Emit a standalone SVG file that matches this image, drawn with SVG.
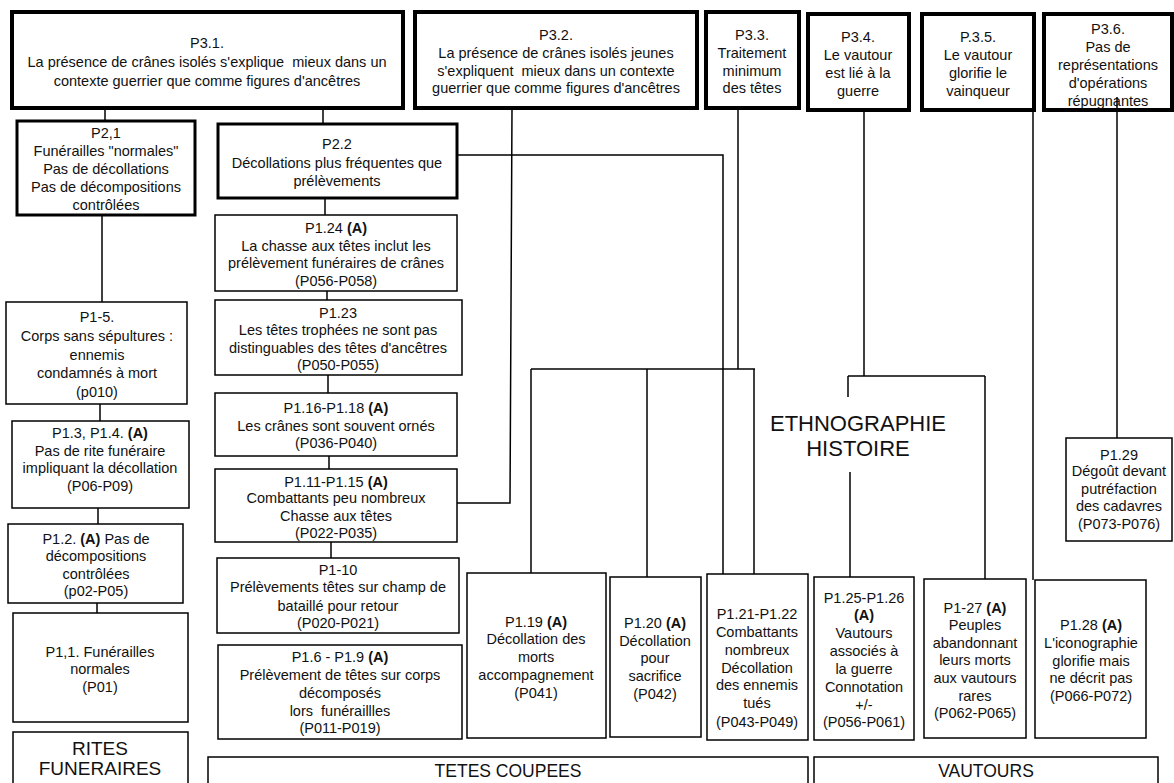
<svg xmlns="http://www.w3.org/2000/svg" width="1174" height="783" viewBox="0 0 1174 783">
<style>
.box{fill:#fff;stroke:#000;stroke-width:1.5}
.thick{stroke-width:4}
.med{stroke-width:3}
.t{font-family:"Liberation Sans",Arial,sans-serif;font-size:14.5px;text-anchor:middle;fill:#111;white-space:pre}
.big{font-size:17.5px}
.huge{font-size:22px}
.b{font-weight:bold}
.conn{fill:none;stroke:#000;stroke-width:1.5}
</style>
<rect width="1174" height="783" fill="#fff"/>
<g id="connectors" class="conn">
<path d="M105,108 V121"/>
<path d="M323,108 V124"/>
<path d="M102,215 V302"/>
<path d="M100,404 V421"/>
<path d="M98,508 V524"/>
<path d="M97,603 V613"/>
<path d="M325,198 V215"/>
<path d="M327,291 V300"/>
<path d="M328,375 V393"/>
<path d="M329,456 V469"/>
<path d="M331,542 V558"/>
<path d="M457,155 H723 V574"/>
<path d="M512,108 L510,503 H457"/>
<path d="M738,108 V369"/>
<path d="M531,369 H755"/>
<path d="M531,369 V573"/>
<path d="M647,369 V577"/>
<path d="M754,369 V574"/>
<path d="M864,110 V376"/>
<path d="M848,376 H985"/>
<path d="M848,376 V397"/>
<path d="M850,472 V577"/>
<path d="M985,376 V579"/>
<path d="M1033,110 V580"/>
<path d="M1117,97 V438"/>
</g>
<g id="P3_1"><rect class="box thick" x="12" y="12" width="391" height="96"/>
<text class="t" xml:space="preserve"><tspan x="207" y="48">P3.1.</tspan><tspan x="207" y="67">La présence de crânes isolés s'explique  mieux dans un</tspan><tspan x="207" y="86">contexte guerrier que comme figures d'ancêtres</tspan></text></g>
<g id="P3_2"><rect class="box thick" x="415" y="12" width="282" height="96"/>
<text class="t" xml:space="preserve"><tspan x="556" y="40">P3.2.</tspan><tspan x="556" y="58">La présence de crânes isolés jeunes</tspan><tspan x="556" y="76">s'expliquent  mieux dans un contexte</tspan><tspan x="556" y="93">guerrier que comme figures d'ancêtres</tspan></text></g>
<g id="P3_3"><rect class="box thick" x="706" y="12" width="93" height="96"/>
<text class="t"><tspan x="752" y="40">P3.3.</tspan><tspan x="752" y="58">Traitement</tspan><tspan x="752" y="76">minimum</tspan><tspan x="752" y="93">des têtes</tspan></text></g>
<g id="P3_4"><rect class="box thick" x="808" y="14" width="101" height="96"/>
<text class="t"><tspan x="858" y="42">P3.4.</tspan><tspan x="858" y="60">Le vautour</tspan><tspan x="858" y="78">est lié à la</tspan><tspan x="858" y="96">guerre</tspan></text></g>
<g id="P3_5"><rect class="box thick" x="922" y="14" width="112" height="96"/>
<text class="t"><tspan x="978" y="42">P.3.5.</tspan><tspan x="978" y="60">Le vautour</tspan><tspan x="978" y="78">glorifie le</tspan><tspan x="978" y="96">vainqueur</tspan></text></g>
<g id="P3_6"><rect class="box thick" x="1044" y="14" width="128" height="96"/>
<text class="t"><tspan x="1108" y="34">P3.6.</tspan><tspan x="1108" y="52">Pas de</tspan><tspan x="1108" y="70">représentations</tspan><tspan x="1108" y="88">d'opérations</tspan><tspan x="1108" y="106">répugnantes</tspan></text></g>
<path class="conn" d="M1117,97 V110"/>
<g id="P2_1"><rect class="box med" x="17" y="121" width="178" height="94"/>
<text class="t"><tspan x="106" y="138">P2,1</tspan><tspan x="106" y="156">Funérailles "normales"</tspan><tspan x="106" y="174">Pas de décollations</tspan><tspan x="106" y="192">Pas de décompositions</tspan><tspan x="106" y="210">contrôlées</tspan></text></g>
<g id="P2_2"><rect class="box med" x="218" y="124" width="239" height="74"/>
<text class="t"><tspan x="337" y="149">P2.2</tspan><tspan x="337" y="168">Décollations plus fréquentes que</tspan><tspan x="337" y="186">prélèvements</tspan></text></g>
<g id="P1_5"><rect class="box" x="6" y="302" width="181" height="102"/>
<text class="t"><tspan x="97" y="322">P1-5.</tspan><tspan x="97" y="341">Corps sans sépultures :</tspan><tspan x="97" y="360">ennemis</tspan><tspan x="97" y="378">condamnés à mort</tspan><tspan x="97" y="397">(p010)</tspan></text></g>
<g id="P1_3"><rect class="box" x="12" y="421" width="177" height="87"/>
<text class="t"><tspan x="100" y="438">P1.3, P1.4. <tspan class="b">(A)</tspan></tspan><tspan x="100" y="456">Pas de rite funéraire</tspan><tspan x="100" y="473">impliquant la décollation</tspan><tspan x="100" y="491">(P06-P09)</tspan></text></g>
<g id="P1_2"><rect class="box" x="8" y="524" width="175" height="79"/>
<text class="t"><tspan x="96" y="544">P1.2. <tspan class="b">(A)</tspan> Pas de</tspan><tspan x="96" y="561">décompositions</tspan><tspan x="96" y="579">contrôlées</tspan><tspan x="96" y="596">(p02-P05)</tspan></text></g>
<g id="P1_1"><rect class="box" x="13" y="613" width="175" height="109"/>
<text class="t"><tspan x="100" y="657">P1,1. Funérailles</tspan><tspan x="100" y="674">normales</tspan><tspan x="100" y="692">(P01)</tspan></text></g>
<g id="rites"><rect class="box" x="13" y="732" width="175" height="60"/>
<text class="t big" style="font-size:19px"><tspan x="100" y="755">RITES</tspan><tspan x="100" y="775">FUNERAIRES</tspan></text></g>
<g id="P1_24"><rect class="box" x="215" y="215" width="242" height="76"/>
<text class="t"><tspan x="336" y="233">P1.24 <tspan class="b">(A)</tspan></tspan><tspan x="336" y="251">La chasse aux têtes inclut les</tspan><tspan x="336" y="268">prélèvement funéraires de crânes</tspan><tspan x="336" y="286">(P056-P058)</tspan></text></g>
<g id="P1_23"><rect class="box" x="215" y="300" width="247" height="75"/>
<text class="t"><tspan x="338" y="318">P1.23</tspan><tspan x="338" y="335">Les têtes trophées ne sont pas</tspan><tspan x="338" y="353">distinguables des têtes d'ancêtres</tspan><tspan x="338" y="370">(P050-P055)</tspan></text></g>
<g id="P1_16"><rect class="box" x="215" y="393" width="242" height="63"/>
<text class="t"><tspan x="336" y="413">P1.16-P1.18 <tspan class="b">(A)</tspan></tspan><tspan x="336" y="431">Les crânes sont souvent ornés</tspan><tspan x="336" y="448">(P036-P040)</tspan></text></g>
<g id="P1_11"><rect class="box" x="215" y="469" width="242" height="73"/>
<text class="t"><tspan x="336" y="487">P1.11-P1.15 <tspan class="b">(A)</tspan></tspan><tspan x="336" y="503">Combattants peu nombreux</tspan><tspan x="336" y="521">Chasse aux têtes</tspan><tspan x="336" y="538">(P022-P035)</tspan></text></g>
<g id="P1_10"><rect class="box" x="217" y="558" width="242" height="75"/>
<text class="t"><tspan x="338" y="575">P1-10</tspan><tspan x="338" y="592">Prélèvements têtes sur champ de</tspan><tspan x="338" y="611">bataillé pour retour</tspan><tspan x="338" y="628">(P020-P021)</tspan></text></g>
<g id="P1_6"><rect class="box" x="218" y="645" width="244" height="94"/>
<text class="t" xml:space="preserve"><tspan x="340" y="662">P1.6 - P1.9 <tspan class="b">(A)</tspan></tspan><tspan x="340" y="680">Prélèvement de têtes sur corps</tspan><tspan x="340" y="698">décomposés</tspan><tspan x="340" y="716">lors  funéraillles</tspan><tspan x="340" y="733">(P011-P019)</tspan></text></g>
<g id="tetes"><rect class="box" x="208" y="757" width="600" height="40"/>
<text class="t big" x="508" y="777">TETES COUPEES</text></g>
<g id="P1_19"><rect class="box" x="467" y="573" width="139" height="165"/>
<text class="t"><tspan x="536" y="627">P1.19 <tspan class="b">(A)</tspan></tspan><tspan x="536" y="644">Décollation des</tspan><tspan x="536" y="662">morts</tspan><tspan x="536" y="680">accompagnement</tspan><tspan x="536" y="698">(P041)</tspan></text></g>
<g id="P1_20"><rect class="box" x="610" y="577" width="91" height="160"/>
<text class="t"><tspan x="655" y="628">P1.20 <tspan class="b">(A)</tspan></tspan><tspan x="655" y="646">Décollation</tspan><tspan x="655" y="663">pour</tspan><tspan x="655" y="681">sacrifice</tspan><tspan x="655" y="699">(P042)</tspan></text></g>
<g id="P1_21"><rect class="box" x="707" y="574" width="101" height="166"/>
<text class="t"><tspan x="757" y="619">P1.21-P1.22</tspan><tspan x="757" y="637">Combattants</tspan><tspan x="757" y="655">nombreux</tspan><tspan x="757" y="673">Décollation</tspan><tspan x="757" y="690">des ennemis</tspan><tspan x="757" y="708">tués</tspan><tspan x="757" y="727">(P043-P049)</tspan></text></g>
<g id="P1_25"><rect class="box" x="814" y="577" width="100" height="163"/>
<text class="t"><tspan x="864" y="603">P1.25-P1.26</tspan><tspan x="864" y="620" class="b">(A)</tspan><tspan x="864" y="638">Vautours</tspan><tspan x="864" y="656">associés à</tspan><tspan x="864" y="674">la guerre</tspan><tspan x="864" y="692">Connotation</tspan><tspan x="864" y="710">+/-</tspan><tspan x="864" y="727">(P056-P061)</tspan></text></g>
<g id="P1_27"><rect class="box" x="924" y="579" width="102" height="159"/>
<text class="t"><tspan x="975" y="613">P1-27 <tspan class="b">(A)</tspan></tspan><tspan x="975" y="630">Peuples</tspan><tspan x="975" y="648">abandonnant</tspan><tspan x="975" y="665">leurs morts</tspan><tspan x="975" y="683">aux vautours</tspan><tspan x="975" y="701">rares</tspan><tspan x="975" y="718">(P062-P065)</tspan></text></g>
<g id="P1_28"><rect class="box" x="1035" y="580" width="111" height="158"/>
<text class="t"><tspan x="1091" y="630">P1.28 <tspan class="b">(A)</tspan></tspan><tspan x="1091" y="648">L'iconographie</tspan><tspan x="1091" y="666">glorifie mais</tspan><tspan x="1091" y="683">ne décrit pas</tspan><tspan x="1091" y="701">(P066-P072)</tspan></text></g>
<g id="P1_29"><rect class="box" x="1066" y="438" width="106" height="103"/>
<text class="t"><tspan x="1119" y="460">P1.29</tspan><tspan x="1119" y="476">Dégoût devant</tspan><tspan x="1119" y="494">putréfaction</tspan><tspan x="1119" y="511">des cadavres</tspan><tspan x="1119" y="529">(P073-P076)</tspan></text></g>
<g id="vautours"><rect class="box" x="814" y="757" width="344" height="40"/>
<text class="t big" x="986" y="777">VAUTOURS</text></g>
<g id="ethno"><text class="t huge"><tspan x="858" y="431">ETHNOGRAPHIE</tspan><tspan x="858" y="456">HISTOIRE</tspan></text></g>
</svg>
